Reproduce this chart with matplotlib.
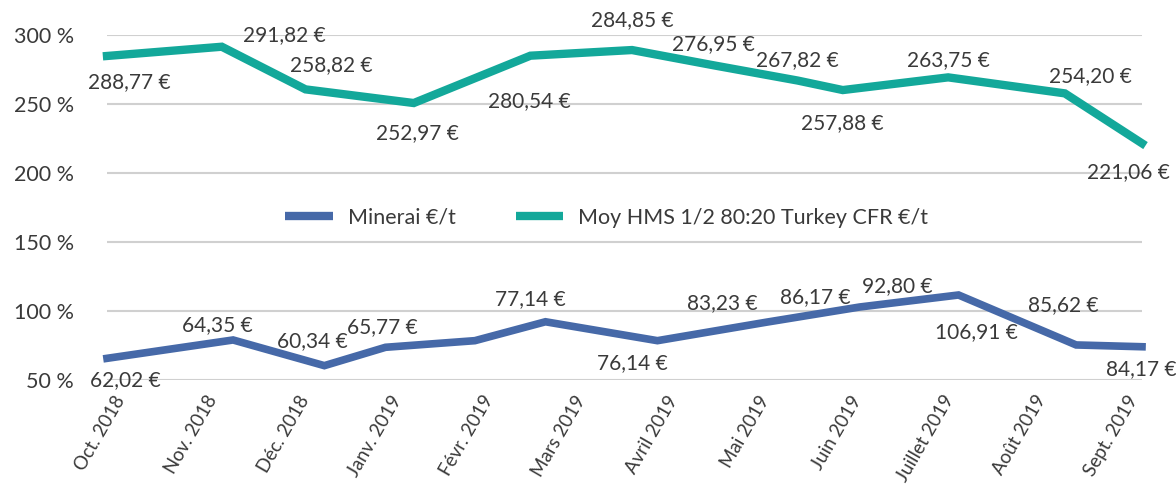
import matplotlib
matplotlib.use("Agg")
import matplotlib.pyplot as plt
import matplotlib.transforms as mtransforms

plt.rcParams["font.family"] = ["Lato", "DejaVu Sans"]

# month labels on the x axis
months = ["Oct. 2018", "Nov. 2018", "Déc. 2018", "Janv. 2019", "Févr. 2019",
          "Mars 2019", "Avril 2019", "Mai 2019", "Juin 2019", "Juillet 2019",
          "Août 2019", "Sept. 2019"]

# Moy HMS 1/2 80:20 Turkey CFR (index %, x in months since Oct. 2018)
hms_x = [0, 1.22, 2.11, 3.26, 4.50, 5.58, 6.45, 7.34, 7.82, 8.94, 10.18, 11]
hms_pct = [284.8, 291.5, 260.6, 250.7, 285.0, 289.1, 278.0, 267.0, 260.1,
           269.3, 257.7, 221.5]
hms_eur = ["288,77 €", "291,82 €", "258,82 €", "252,97 €", "280,54 €",
           "284,85 €", "276,95 €", "267,82 €", "257,88 €", "263,75 €",
           "254,20 €", "221,06 €"]

# Minerai (index %)
ore_x = [0, 1.34, 2.31, 2.96, 3.91, 4.66, 5.85, 7.0, 8.0, 9.05, 10.3, 11]
ore_pct = [65.7, 79.0, 60.4, 73.7, 78.5, 92.2, 78.5, 91.8, 102.9, 111.6,
           75.4, 74.1]
ore_eur = ["62,02 €", "64,35 €", "60,34 €", "65,77 €", "77,14 €", "76,14 €",
           "83,23 €", "86,17 €", "92,80 €", "106,91 €", "85,62 €", "84,17 €"]

# where the data labels sit (x in months, y in %)
hms_lab_x = [0.24, 1.88, 2.38, 3.30, 4.49, 5.58, 6.45, 7.34, 7.82, 8.94,
             10.45, 10.86]
hms_lab_y = [266, 300, 278, 229, 252, 311, 293.5, 282, 236, 282, 270, 201]
ore_lab_x = [0.20, 1.17, 2.18, 2.93, 4.50, 5.58, 6.54, 7.53, 8.40, 9.24,
             10.16, 10.99]
ore_lab_y = [50, 90, 78, 88.6, 108.5, 62.5, 105.6, 110, 118.3, 85, 104.3, 58]

yticks = [50, 100, 150, 200, 250, 300]

teal = "#13a89a"
blue = "#4669a8"
text_col = "#3a3a3a"

fig = plt.figure(figsize=(11.76, 4.88), dpi=100)
ax = fig.add_axes([107 / 1176, 1 - 380 / 488, 1035 / 1176, 345 / 488])

ax.plot(ore_x, ore_pct, color=blue, lw=5.5, solid_joinstyle="miter",
        label="Minerai €/t", zorder=3, clip_on=False)
ax.plot(hms_x, hms_pct, color=teal, lw=6, solid_joinstyle="miter",
        label="Moy HMS 1/2 80:20 Turkey CFR €/t", zorder=3, clip_on=False)

for x, y, s in zip(hms_lab_x, hms_lab_y, hms_eur):
    ax.text(x, y, s, ha="center", va="center", fontsize=15,
            color=text_col, zorder=4, clip_on=False)
for x, y, s in zip(ore_lab_x, ore_lab_y, ore_eur):
    ax.text(x, y, s, ha="center", va="center", fontsize=15,
            color=text_col, zorder=4, clip_on=False)

ax.set_xlim(0, 11)
ax.set_ylim(50, 300)
ax.set_yticks(yticks)
ax.set_yticklabels([f"{v} %" for v in yticks], fontsize=15.5, color=text_col)
ax.tick_params(axis="y", length=0, pad=24)
ax.grid(axis="y", color="#d0d0d0", lw=1.5, zorder=0)

# month ticks are a bit tighter than the line span
ax.set_xticks([i * 0.978 for i in range(len(months))])
ax.set_xticklabels(months, rotation=60, ha="right", rotation_mode="anchor",
                   fontsize=13.5, color=text_col)
ax.tick_params(axis="x", length=0, pad=9)
offset = mtransforms.ScaledTranslation(0.07, 0, fig.dpi_scale_trans)
for lab in ax.get_xticklabels():
    lab.set_transform(lab.get_transform() + offset)

for sp in ax.spines.values():
    sp.set_visible(False)

leg = ax.legend(loc="center", bbox_to_anchor=(0.483, 0.47), ncol=2,
                frameon=False, fontsize=15.5, handlelength=2.2,
                handletextpad=0.7, columnspacing=2.8, labelcolor=text_col)
for h in leg.get_lines():
    h.set_linewidth(6)
    h.set_solid_capstyle("butt")

fig.savefig("out.png", dpi=100)
